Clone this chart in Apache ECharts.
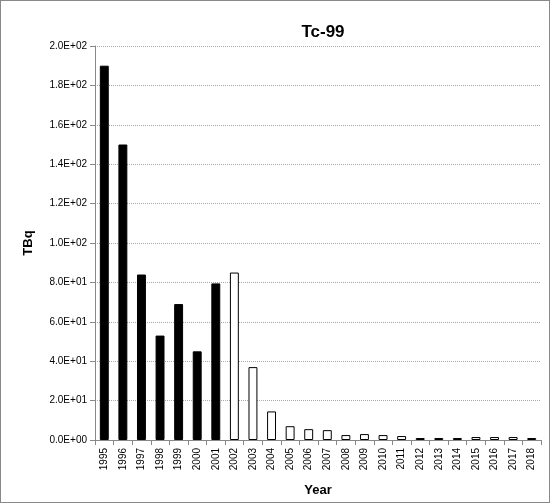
<!DOCTYPE html><html><head><meta charset="utf-8">
<script src="https://cdn.jsdelivr.net/npm/echarts@6/dist/echarts.min.js"></script>
<style>body{margin:0}#c{width:548px;height:501px;border:1px solid #888}</style></head><body><div id="c"></div>
<script>
const years=['1995','1996','1997','1998','1999','2000','2001','2002','2003','2004','2005','2006','2007','2008','2009','2010','2011','2012','2013','2014','2015','2016','2017','2018'];
const values=[190,150,84,53,69,45,79.5,85,37,14.5,7,5.5,5,2.5,3,2.5,2,1,1,1,1.5,1.5,1.5,1];
const filledUntil='2001';
const ch=echarts.init(document.getElementById('c'));
const fi=years.indexOf(filledUntil);
ch.setOption({
 animation:false,
 title:{text:'Tc-99',left:317,top:18,textAlign:'center',textStyle:{fontFamily:'Liberation Sans',fontSize:17,fontWeight:'bold',color:'#000'}},
 grid:{left:94,right:8,top:45,bottom:58},
 xAxis:{type:'category',data:years,name:'Year',nameLocation:'middle',nameGap:44,
  nameTextStyle:{fontFamily:'Liberation Sans',fontWeight:'bold',fontSize:13,color:'#000'},
  axisLine:{lineStyle:{color:'#888'}},axisTick:{show:true,alignWithLabel:false,lineStyle:{color:'#888'}},
  axisLabel:{rotate:90,fontSize:10,color:'#000',fontFamily:'Liberation Sans',interval:0}},
 yAxis:{type:'value',min:0,max:200,interval:20,name:'TBq',nameLocation:'middle',nameGap:60,
  nameTextStyle:{fontFamily:'Liberation Sans',fontWeight:'bold',fontSize:13,color:'#000'},
  axisLine:{show:true,lineStyle:{color:'#888'}},axisTick:{show:true,lineStyle:{color:'#888'}},
  axisLabel:{fontSize:10,color:'#000',fontFamily:'Liberation Sans',formatter:v=>v.toExponential(1).replace('e+','E+0').replace(/E\+0(\d\d)/,'E+$1')},
  splitLine:{lineStyle:{type:'dotted',color:'#aaa'}}},
 series:[{type:'bar',barWidth:'48%',data:values.map((v,i)=>({value:v,itemStyle:{color:i<=fi?'#000':'#fff',borderColor:'#000',borderWidth:1}}))}]
});
</script></body></html>
